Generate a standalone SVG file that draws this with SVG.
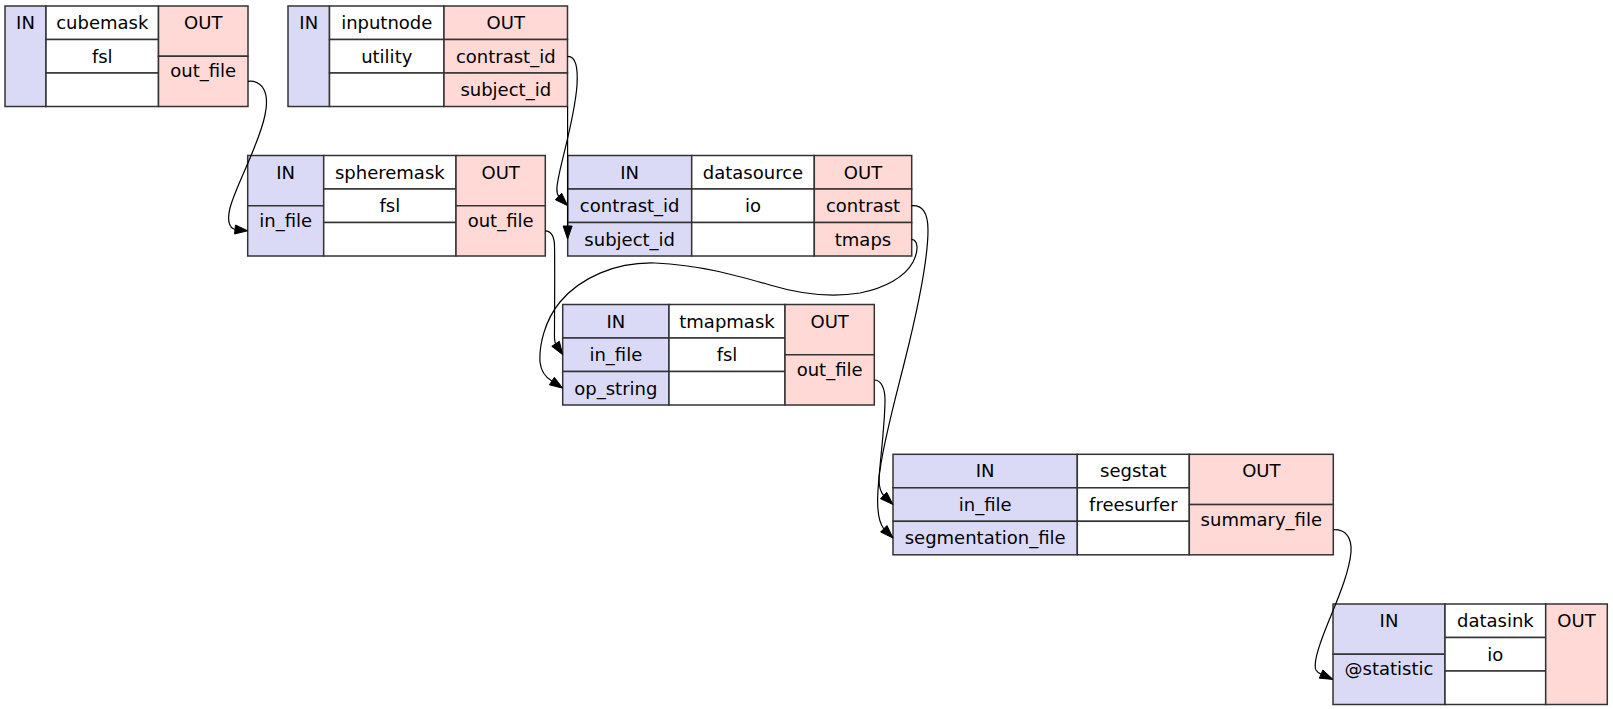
<svg xmlns="http://www.w3.org/2000/svg" width="1613" height="709" viewBox="0 0 1613 709">
<style>
rect { stroke: #333333; stroke-width: 1.5; }
.in { fill: #dadaf7; }
.mid { fill: #ffffff; }
.out { fill: #ffd9d6; }
text { font-family: "DejaVu Sans", "Liberation Sans", sans-serif; font-size: 18px; fill: #000000; text-anchor: middle; }
.edge { fill: none; stroke: #000000; stroke-width: 1.2; }
.head { fill: #000000; stroke: #000000; stroke-width: 1; }
</style>
<rect x="0" y="0" width="1613" height="709" fill="#ffffff" style="stroke:none"/>

<g id="cubemask">
<rect class="in" x="5" y="6" width="41" height="100.5"/>
<rect class="mid" x="46" y="6" width="112.5" height="33.5"/>
<rect class="mid" x="46" y="39.5" width="112.5" height="33.5"/>
<rect class="mid" x="46" y="73" width="112.5" height="33.5"/>
<rect class="out" x="158.5" y="6" width="89.5" height="50.25"/>
<rect class="out" x="158.5" y="56.25" width="89.5" height="50.25"/>
<text x="25.5" y="29">IN</text>
<text x="102.25" y="29">cubemask</text>
<text x="102.25" y="62.5">fsl</text>
<text x="203.25" y="29">OUT</text>
<text x="203.25" y="77.25">out_file</text>
</g>

<g id="inputnode">
<rect class="in" x="288" y="6" width="41.5" height="100.5"/>
<rect class="mid" x="329.5" y="6" width="114.5" height="33.5"/>
<rect class="mid" x="329.5" y="39.5" width="114.5" height="33.5"/>
<rect class="mid" x="329.5" y="73" width="114.5" height="33.5"/>
<rect class="out" x="444" y="6" width="123.5" height="33.5"/>
<rect class="out" x="444" y="39.5" width="123.5" height="33.5"/>
<rect class="out" x="444" y="73" width="123.5" height="33.5"/>
<text x="308.75" y="29">IN</text>
<text x="386.75" y="29">inputnode</text>
<text x="386.75" y="62.5">utility</text>
<text x="505.75" y="29">OUT</text>
<text x="505.75" y="62.5">contrast_id</text>
<text x="505.75" y="96">subject_id</text>
</g>

<g id="spheremask">
<rect class="in" x="247.7" y="155.5" width="76" height="50.25"/>
<rect class="in" x="247.7" y="205.75" width="76" height="50.25"/>
<rect class="mid" x="323.7" y="155.5" width="132.3" height="33.5"/>
<rect class="mid" x="323.7" y="189" width="132.3" height="33.5"/>
<rect class="mid" x="323.7" y="222.5" width="132.3" height="33.5"/>
<rect class="out" x="456" y="155.5" width="89.3" height="50.25"/>
<rect class="out" x="456" y="205.75" width="89.3" height="50.25"/>
<text x="285.7" y="178.5">IN</text>
<text x="285.7" y="226.75">in_file</text>
<text x="389.85" y="178.5">spheremask</text>
<text x="389.85" y="212">fsl</text>
<text x="500.65" y="178.5">OUT</text>
<text x="500.65" y="226.75">out_file</text>
</g>

<g id="datasource">
<rect class="in" x="567.7" y="155.5" width="124" height="33.5"/>
<rect class="in" x="567.7" y="189" width="124" height="33.5"/>
<rect class="in" x="567.7" y="222.5" width="124" height="33.5"/>
<rect class="mid" x="691.7" y="155.5" width="122.6" height="33.5"/>
<rect class="mid" x="691.7" y="189" width="122.6" height="33.5"/>
<rect class="mid" x="691.7" y="222.5" width="122.6" height="33.5"/>
<rect class="out" x="814.3" y="155.5" width="97.4" height="33.5"/>
<rect class="out" x="814.3" y="189" width="97.4" height="33.5"/>
<rect class="out" x="814.3" y="222.5" width="97.4" height="33.5"/>
<text x="629.7" y="178.5">IN</text>
<text x="629.7" y="212">contrast_id</text>
<text x="629.7" y="245.5">subject_id</text>
<text x="753" y="178.5">datasource</text>
<text x="753" y="212">io</text>
<text x="863" y="178.5">OUT</text>
<text x="863" y="212">contrast</text>
<text x="863" y="245.5">tmaps</text>
</g>

<g id="tmapmask">
<rect class="in" x="562.7" y="304.5" width="106.3" height="33.5"/>
<rect class="in" x="562.7" y="338" width="106.3" height="33.5"/>
<rect class="in" x="562.7" y="371.5" width="106.3" height="33.5"/>
<rect class="mid" x="669" y="304.5" width="116" height="33.5"/>
<rect class="mid" x="669" y="338" width="116" height="33.5"/>
<rect class="mid" x="669" y="371.5" width="116" height="33.5"/>
<rect class="out" x="785" y="304.5" width="89.3" height="50.25"/>
<rect class="out" x="785" y="354.75" width="89.3" height="50.25"/>
<text x="615.85" y="327.5">IN</text>
<text x="615.85" y="361">in_file</text>
<text x="615.85" y="394.5">op_string</text>
<text x="727" y="327.5">tmapmask</text>
<text x="727" y="361">fsl</text>
<text x="829.65" y="327.5">OUT</text>
<text x="829.65" y="375.75">out_file</text>
</g>

<g id="segstat">
<rect class="in" x="893" y="454.3" width="184.3" height="33.5"/>
<rect class="in" x="893" y="487.8" width="184.3" height="33.5"/>
<rect class="in" x="893" y="521.3" width="184.3" height="33.5"/>
<rect class="mid" x="1077.3" y="454.3" width="112" height="33.5"/>
<rect class="mid" x="1077.3" y="487.8" width="112" height="33.5"/>
<rect class="mid" x="1077.3" y="521.3" width="112" height="33.5"/>
<rect class="out" x="1189.3" y="454.3" width="144" height="50.25"/>
<rect class="out" x="1189.3" y="504.55" width="144" height="50.25"/>
<text x="985.15" y="477.3">IN</text>
<text x="985.15" y="510.8">in_file</text>
<text x="985.15" y="544.3">segmentation_file</text>
<text x="1133.3" y="477.3">segstat</text>
<text x="1133.3" y="510.8">freesurfer</text>
<text x="1261.3" y="477.3">OUT</text>
<text x="1261.3" y="525.55">summary_file</text>
</g>

<g id="datasink">
<rect class="in" x="1333" y="604" width="112" height="50.25"/>
<rect class="in" x="1333" y="654.25" width="112" height="50.25"/>
<rect class="mid" x="1445" y="604" width="100.7" height="33.5"/>
<rect class="mid" x="1445" y="637.5" width="100.7" height="33.5"/>
<rect class="mid" x="1445" y="671" width="100.7" height="33.5"/>
<rect class="out" x="1545.7" y="604" width="61.6" height="100.5"/>
<text x="1389" y="627">IN</text>
<text x="1389" y="675.25">@statistic</text>
<text x="1495.35" y="627">datasink</text>
<text x="1495.35" y="660.5">io</text>
<text x="1576.5" y="627">OUT</text>
</g>

<g id="connectors">
<path class="edge" d="M248,81.3 C262,80 270,92 265,115 C259,145 236,185 230,208 C227,220 229,228 235,229.5"/>
<polygon class="head" points="247.7,230.8 235.5,225 234.5,234"/>

<path class="edge" d="M567.5,56.3 C576,56 578,68 577,85 C575,115 563,155 559,175 C557,185 555.5,192 558.8,196.8"/>
<polygon class="head" points="567.7,205.7 555.3,199.7 561.7,193.3"/>

<path class="edge" d="M567.6,106.5 L567.6,226"/>
<polygon class="head" points="567.6,239 563.1,226 572.1,226"/>

<path class="edge" d="M545.3,230.9 C551,231 554,236 554.5,245 C555,270 554.5,310 554.5,330 C554.5,336 554,340 555.5,343.8"/>
<polygon class="head" points="562.7,354.7 551.8,346.3 559.3,341.3"/>

<path class="edge" d="M911.7,239.3 C918,240 919,250 913,262 C905,277 885,288 860,293 C830,298 800,294 770,285 C735,275 700,265 655,263 C615,262 580,278 560,302 C545,320 539,345 540,362 C541,372 545,377 551.9,381.1"/>
<polygon class="head" points="562.7,388.2 549.4,384.8 554.4,377.3"/>

<path class="edge" d="M911.7,205.7 C922,205 928,212 928,230 C928,260 915,320 905,360 C895,400 884,440 880,470 C878,482 879,490 883.6,495.5"/>
<polygon class="head" points="893,504.5 880.5,498.7 886.7,492.3"/>

<path class="edge" d="M874.3,380 C881,380 885,388 885,400 C885,425 880,460 878,490 C877,505 877,520 883.8,528.8"/>
<polygon class="head" points="893,538 880.6,532 887,525.6"/>

<path class="edge" d="M1333.3,529.7 C1345,529 1352,537 1351,552 C1349,575 1335,605 1326,628 C1318,648 1313,664 1316,670 C1317.5,672.5 1319,673.5 1321.1,674.1"/>
<polygon class="head" points="1333,679.4 1319.3,678.2 1322.9,670"/>
</g>
</svg>
